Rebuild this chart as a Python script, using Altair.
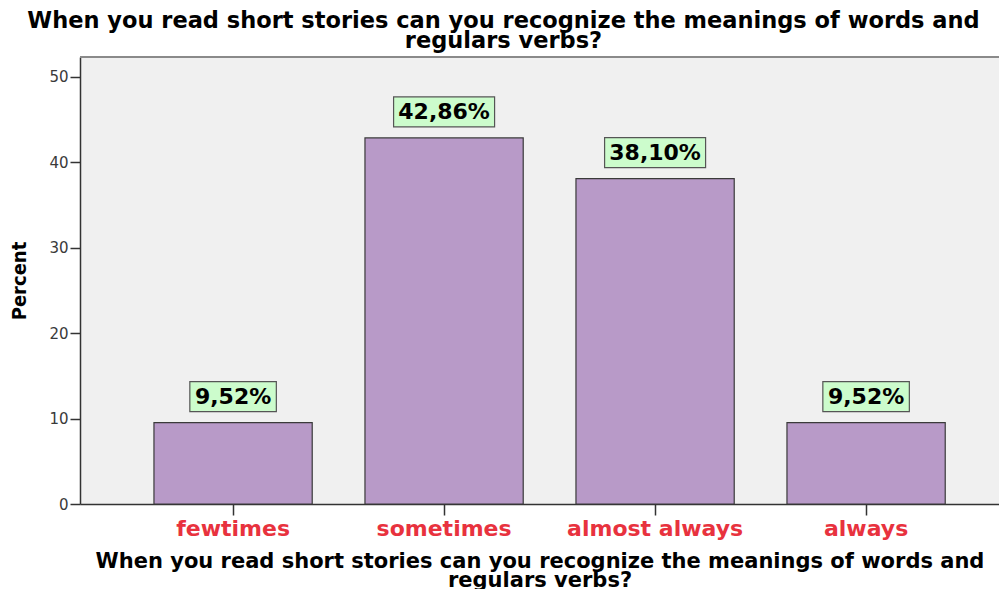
import altair as alt
import pandas as pd

categories = ["fewtimes", "sometimes", "almost always", "always"]
percents = [9.52, 42.86, 38.10, 9.52]
labels = ["9,52%", "42,86%", "38,10%", "9,52%"]
y_ticks = [0, 10, 20, 30, 40, 50]
title_lines = [
    "When you read short stories can you recognize the meanings of words and",
    "regulars verbs?",
]

df = pd.DataFrame({"category": categories, "percent": percents, "label": labels})

PLOT_W = 919
PLOT_H = 447

x_enc = alt.X(
    "category:N",
    sort=categories,
    scale=alt.Scale(paddingInner=0.25, paddingOuter=0.3027, align=0.579),
    axis=alt.Axis(
        title=title_lines,
        labelAngle=0,
        labelColor="#e8323e",
        labelFont="DejaVu Sans",
        labelFontWeight="bold",
        labelFontSize=22,
        labelPadding=3,
        tickSize=11,
        tickColor="#333333",
        tickWidth=1.5,
        domainColor="#333333",
        domainWidth=1.5,
        titleFont="DejaVu Sans",
        titleFontSize=21,
        titleFontWeight="bold",
        titleColor="black",
        titlePadding=11,
        titleLineHeight=19,
    ),
)
y_enc = alt.Y(
    "percent:Q",
    scale=alt.Scale(domain=[0, 52.34], nice=False),
    axis=alt.Axis(
        values=y_ticks,
        title="Percent",
        grid=False,
        labelFont="DejaVu Sans",
        labelFontSize=15,
        labelColor="#3a3a3a",
        labelPadding=2,
        tickSize=10,
        tickColor="#333333",
        tickWidth=1.5,
        domainColor="#333333",
        domainWidth=1.5,
        titleFont="DejaVu Sans Condensed, Liberation Sans, sans-serif",
        titleFontSize=20,
        titleFontWeight="bold",
        titleColor="black",
        titlePadding=19,
    ),
)

base = alt.Chart(df)

top_border = base.mark_rule(color="#8a8a8a", strokeWidth=1.5).encode(
    x=alt.value(0), x2=alt.value(PLOT_W), y=alt.value(0)
)

bars = base.mark_bar(fill="#b89ac8", stroke="#3a3a3a", strokeWidth=1.2).encode(
    x=x_enc, y=y_enc
)

boxes = (
    base.transform_calculate(boxw="length(datum.label) * 14.5 + 14")
    .mark_bar(fill="#ccfccc", stroke="#555555", strokeWidth=1.2, yOffset=-11, y2Offset=-41)
    .encode(
        x=x_enc,
        y=y_enc,
        y2="percent:Q",
        size=alt.Size("boxw:Q", scale=None, legend=None),
    )
)

texts = base.mark_text(
    font="DejaVu Sans", fontWeight="bold", fontSize=22, dy=-26, baseline="middle", color="black"
).encode(x=x_enc, y=y_enc, text="label:N")

chart = (
    alt.layer(bars, boxes, texts, top_border)
    .properties(
        width=PLOT_W,
        height=PLOT_H,
        autosize=alt.AutoSizeParams(type="none"),
        padding={"left": 72, "top": 49, "right": 0, "bottom": 85},
        background="white",
        title=alt.TitleParams(
            text=title_lines,
            font="DejaVu Sans",
            fontSize=22.5,
            fontWeight="bold",
            color="black",
            anchor="middle",
            dx=-36,
            offset=4,
            lineHeight=20,
        ),
    )
    .configure_view(fill="#f0f0f0", stroke=None)
)

chart.save("out.html", embed_options={"renderer": "svg", "actions": False})
